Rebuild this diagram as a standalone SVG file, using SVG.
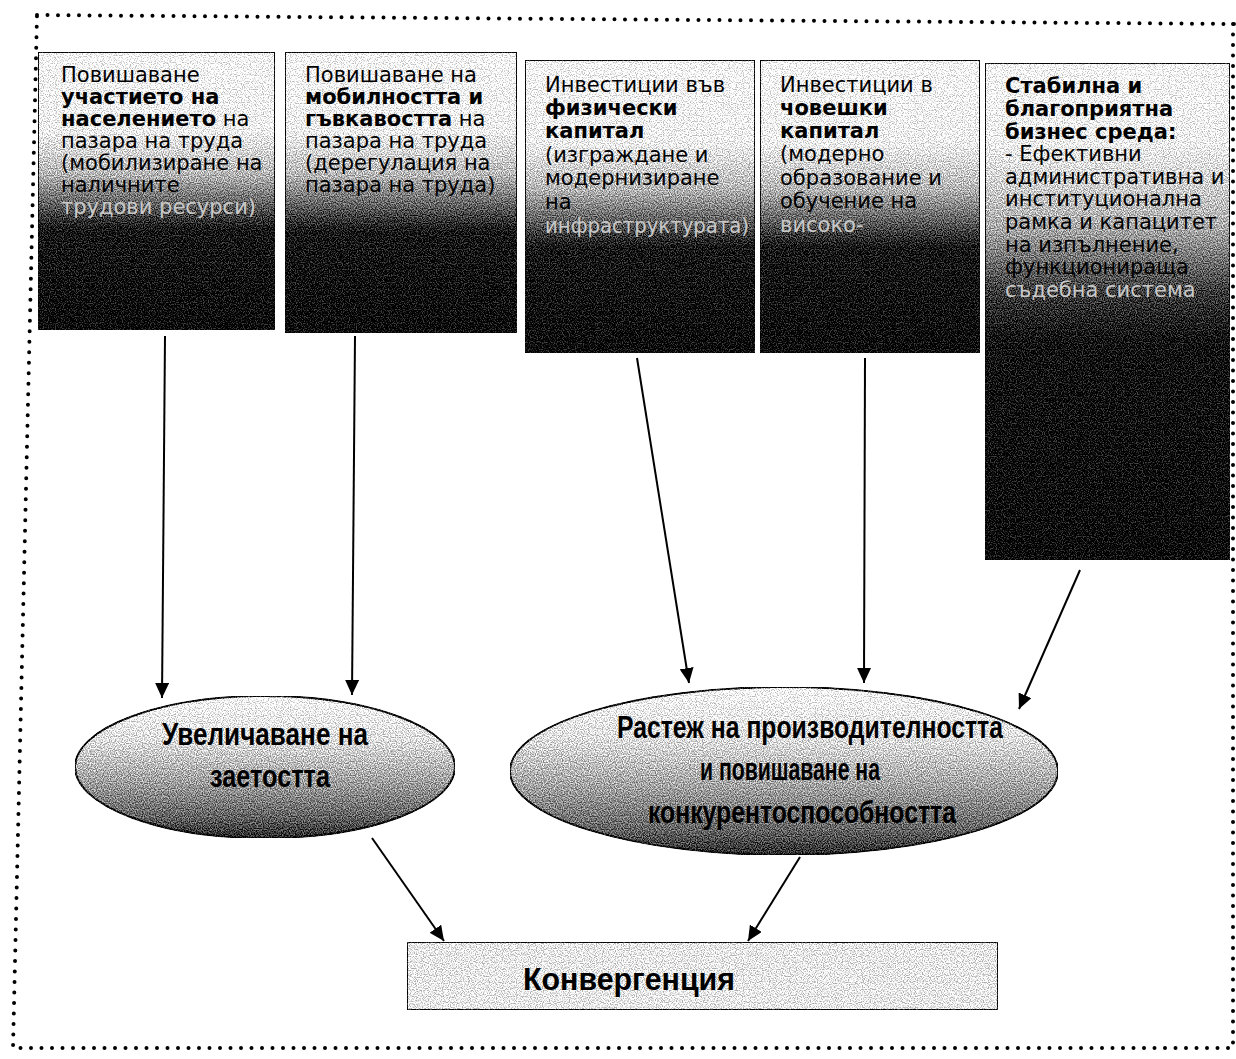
<svg xmlns="http://www.w3.org/2000/svg" width="1236" height="1059" viewBox="0 0 1236 1059">
  <style>
    .bt { font-family: "DejaVu Sans", Verdana, sans-serif; font-size: 21px; fill: #000; }
    .b { font-weight: bold; }
    .faint { fill: #c8c8c8; }
    .et { font-family: "Liberation Sans", Arial, sans-serif; font-size: 31px; font-weight: bold; fill: #000; text-anchor: middle; }
    .ct { font-family: "Liberation Sans", Arial, sans-serif; font-size: 31px; font-weight: bold; fill: #000; }
    .box { stroke: #000; stroke-width: 2; }
    .conn line { stroke: #000; stroke-width: 2; marker-end: url(#ah); }
  </style>
  <defs>
    <linearGradient id="gbox" x1="0" y1="0" x2="0" y2="1">
      <stop offset="0" stop-color="#ffffff"/>
      <stop offset="0.28" stop-color="#f6f6f6"/>
      <stop offset="0.44" stop-color="#b4b4b4"/>
      <stop offset="0.56" stop-color="#555"/>
      <stop offset="0.64" stop-color="#111"/>
      <stop offset="1" stop-color="#000"/>
    </linearGradient>
    <linearGradient id="gbox5" x1="0" y1="0" x2="0" y2="1">
      <stop offset="0" stop-color="#ffffff"/>
      <stop offset="0.16" stop-color="#f6f6f6"/>
      <stop offset="0.33" stop-color="#aaaaaa"/>
      <stop offset="0.46" stop-color="#3a3a3a"/>
      <stop offset="0.56" stop-color="#0a0a0a"/>
      <stop offset="1" stop-color="#000"/>
    </linearGradient>
    <linearGradient id="gell" x1="0" y1="0" x2="0" y2="1">
      <stop offset="0" stop-color="#ffffff"/>
      <stop offset="0.3" stop-color="#e2e2e2"/>
      <stop offset="0.6" stop-color="#a0a0a0"/>
      <stop offset="0.85" stop-color="#626262"/>
      <stop offset="1" stop-color="#2a2a2a"/>
    </linearGradient>
    <filter id="grain" x="0" y="0" width="1" height="1" color-interpolation-filters="sRGB">
      <feTurbulence type="fractalNoise" baseFrequency="0.85" numOctaves="1" seed="7" result="n"/>
      <feColorMatrix in="n" type="matrix" values="1 0 0 0 0  1 0 0 0 0  1 0 0 0 0  0 0 0 0 1" result="g"/>
      <feComponentTransfer in="g" result="gc">
        <feFuncR type="linear" slope="3" intercept="-1"/>
        <feFuncG type="linear" slope="3" intercept="-1"/>
        <feFuncB type="linear" slope="3" intercept="-1"/>
      </feComponentTransfer>
      <feComposite in="SourceGraphic" in2="gc" operator="arithmetic" k1="0" k2="1" k3="0.5" k4="-0.25" result="m"/>
      <feComposite in="m" in2="SourceAlpha" operator="in"/>
    </filter>
    <marker id="ah" markerWidth="16" markerHeight="14" refX="15" refY="7" orient="auto" markerUnits="userSpaceOnUse">
      <path d="M0,0 L15,7 L0,14 z" fill="#000"/>
    </marker>
  </defs>

  <rect x="0" y="0" width="1236" height="1059" fill="#fff"/>

  <!-- dotted frame -->
  <path d="M37,15 L1236,24 M1233,24 L1233,1048 L13,1048 L37,15" fill="none" stroke="#000" stroke-width="4" stroke-linecap="round" stroke-dasharray="0 10.5"/>

  <g id="node-participation">
    <rect class="box" x="38" y="52" width="237" height="278" fill="url(#gbox)" filter="url(#grain)"/>
    <text class="bt" x="61" y="82">Повишаване</text>
    <text class="bt b" x="61" y="104">участието на</text>
    <text class="bt" x="61" y="126"><tspan class="b">населението</tspan> на</text>
    <text class="bt" x="61" y="148">пазара на труда</text>
    <text class="bt" x="61" y="170">(мобилизиране на</text>
    <text class="bt" x="61" y="192">наличните</text>
    <text class="bt faint" x="61" y="214">трудови ресурси)</text>
  </g>

  <g id="node-mobility">
    <rect class="box" x="285" y="52" width="232" height="281" fill="url(#gbox)" filter="url(#grain)"/>
    <text class="bt" x="305" y="82">Повишаване на</text>
    <text class="bt b" x="305" y="104">мобилността и</text>
    <text class="bt" x="305" y="126"><tspan class="b">гъвкавостта</tspan> на</text>
    <text class="bt" x="305" y="148">пазара на труда</text>
    <text class="bt" x="305" y="170">(дерегулация на</text>
    <text class="bt" x="305" y="192">пазара на труда)</text>
  </g>

  <g id="node-physical">
    <rect class="box" x="525" y="60" width="230" height="293" fill="url(#gbox)" filter="url(#grain)"/>
    <text class="bt" x="545" y="92">Инвестиции във</text>
    <text class="bt b" x="545" y="115">физически</text>
    <text class="bt b" x="545" y="138">капитал</text>
    <text class="bt" x="545" y="162">(изграждане и</text>
    <text class="bt" x="545" y="185">модернизиране</text>
    <text class="bt" x="545" y="209">на</text>
    <text class="bt faint" x="545" y="233" textLength="204" lengthAdjust="spacingAndGlyphs">инфраструктурата)</text>
  </g>

  <g id="node-human">
    <rect class="box" x="760" y="60" width="220" height="293" fill="url(#gbox)" filter="url(#grain)"/>
    <text class="bt" x="780" y="92">Инвестиции в</text>
    <text class="bt b" x="780" y="115">човешки</text>
    <text class="bt b" x="780" y="138">капитал</text>
    <text class="bt" x="780" y="161">(модерно</text>
    <text class="bt" x="780" y="185">образование и</text>
    <text class="bt" x="780" y="208">обучение на</text>
    <text class="bt faint" x="780" y="232">високо-</text>
  </g>

  <g id="node-business">
    <rect class="box" x="985" y="63" width="245" height="497" fill="url(#gbox5)" filter="url(#grain)"/>
    <text class="bt b" x="1005" y="93">Стабилна и</text>
    <text class="bt b" x="1005" y="116">благоприятна</text>
    <text class="bt b" x="1005" y="139">бизнес среда:</text>
    <text class="bt" x="1005" y="161">- Ефективни</text>
    <text class="bt" x="1005" y="184">административна и</text>
    <text class="bt" x="1005" y="206">институционална</text>
    <text class="bt" x="1005" y="229">рамка и капацитет</text>
    <text class="bt" x="1005" y="252">на изпълнение,</text>
    <text class="bt" x="1005" y="274">функционираща</text>
    <text class="bt faint" x="1005" y="297">съдебна система</text>
  </g>

  <g id="node-employment">
    <ellipse cx="265" cy="767" rx="190" ry="71" fill="url(#gell)" stroke="#000" stroke-width="2" filter="url(#grain)"/>
    <text class="et" x="265" y="745" textLength="206" lengthAdjust="spacingAndGlyphs">Увеличаване на</text>
    <text class="et" x="270" y="787" textLength="120" lengthAdjust="spacingAndGlyphs">заетостта</text>
  </g>

  <g id="node-productivity">
    <ellipse cx="784" cy="771" rx="274" ry="84" fill="url(#gell)" stroke="#000" stroke-width="2" filter="url(#grain)"/>
    <text class="et" x="810" y="738" textLength="386" lengthAdjust="spacingAndGlyphs">Растеж на производителността</text>
    <text class="et" x="790" y="780" textLength="180" lengthAdjust="spacingAndGlyphs">и повишаване на</text>
    <text class="et" x="802" y="823" textLength="308" lengthAdjust="spacingAndGlyphs">конкурентоспособността</text>
  </g>

  <g id="node-convergence">
    <rect x="407" y="942" width="591" height="68" fill="#ececec" stroke="#000" stroke-width="2" filter="url(#grain)"/>
    <text class="ct" x="523" y="990" textLength="212" lengthAdjust="spacingAndGlyphs">Конвергенция</text>
  </g>

  <g id="connectors" class="conn">
    <line x1="165" y1="336" x2="162" y2="698"/>
    <line x1="355" y1="336" x2="352" y2="695"/>
    <line x1="637" y1="358" x2="689" y2="683"/>
    <line x1="865" y1="358" x2="864" y2="683"/>
    <line x1="1080" y1="570" x2="1019" y2="709"/>
    <line x1="372" y1="838" x2="444" y2="941"/>
    <line x1="800" y1="857" x2="748" y2="941"/>
  </g>
</svg>
